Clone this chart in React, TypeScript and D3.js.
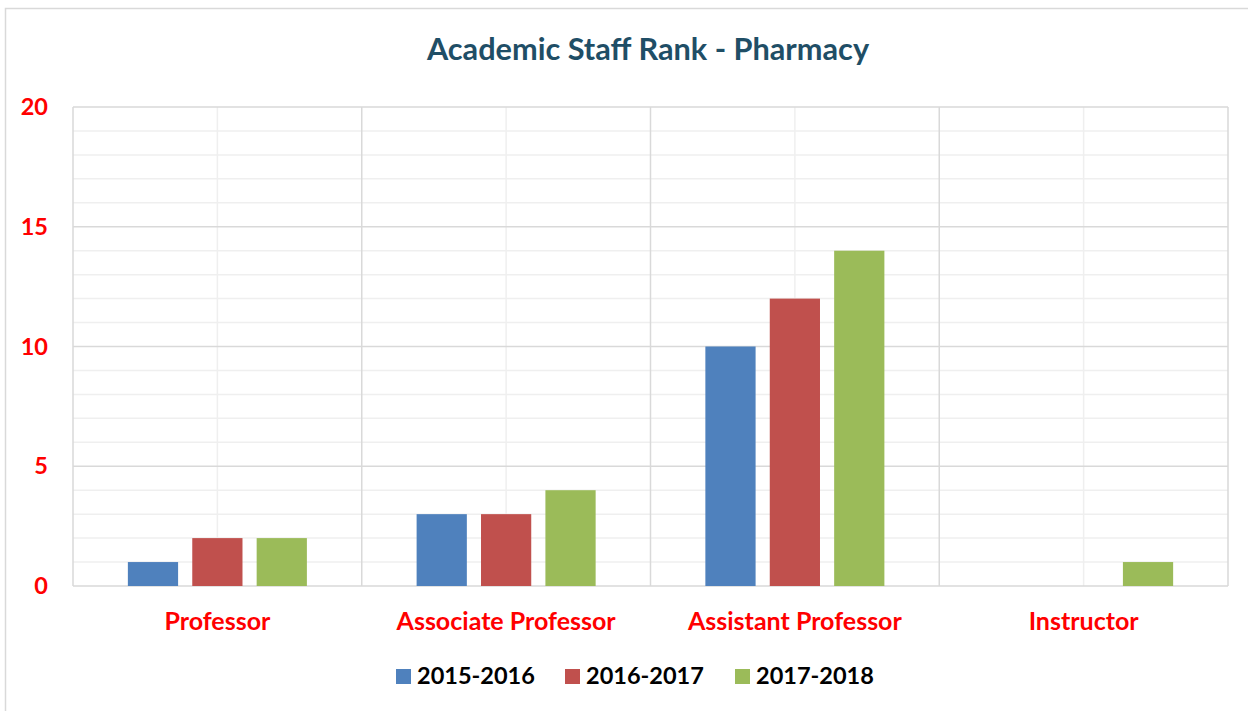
import React from 'react';
import * as d3 from 'd3';

const categories = ['Professor', 'Associate Professor', 'Assistant Professor', 'Instructor'];
const seriesNames = ['2015-2016', '2016-2017', '2017-2018'];
const values2015 = [1, 3, 10, 0];
const values2016 = [2, 3, 12, 0];
const values2017 = [2, 4, 14, 1];
const yTicks = [0, 5, 10, 15, 20];

const colors = ['#4F81BD', '#C0504D', '#9BBB59'];
const font = 'Lato, "Open Sans", sans-serif';

const W = 1248;
const H = 711;
const plot = { left: 73, top: 107, right: 1228, bottom: 586 };

const App = () => {
    const series = [values2015, values2016, values2017];

    const y = d3.scaleLinear().domain([0, 20]).range([plot.bottom, plot.top]);
    const x0 = d3.scaleBand().domain(categories).range([plot.left, plot.right]);
    const cw = x0.bandwidth();
    const x1 = d3.scaleBand()
        .domain(seriesNames)
        .range([cw * 0.19, cw * 0.81])
        .paddingInner(0.22);

    const minor = d3.range(0, 21);

    // legend layout
    const legendX = [396, 565, 735];

    return (
        <svg width={W} height={H} style={{ position: 'absolute', left: 0, top: 0, background: '#fff' }}>
            <rect x={5.5} y={8.5} width={1300} height={800} fill="#fff" stroke="#D9D9D9" strokeWidth={1.5} />

            <text x={648} y={60} textAnchor="middle" fontFamily={font} fontWeight="bold"
                  fontSize={30.7} fill="#1F4E66">Academic Staff Rank - Pharmacy</text>

            {/* minor horizontal grid */}
            {minor.filter(v => v % 5 !== 0).map(v => (
                <line key={'m' + v} x1={plot.left} x2={plot.right} y1={y(v)} y2={y(v)}
                      stroke="#EFEFEF" strokeWidth={1.5} />
            ))}
            {/* minor vertical grid at category centers */}
            {categories.map(c => (
                <line key={'vc' + c} x1={x0(c)! + cw / 2} x2={x0(c)! + cw / 2} y1={plot.top} y2={plot.bottom}
                      stroke="#EFEFEF" strokeWidth={1.5} />
            ))}
            {/* major horizontal grid */}
            {yTicks.map(v => (
                <line key={'M' + v} x1={plot.left} x2={plot.right} y1={y(v)} y2={y(v)}
                      stroke="#D9D9D9" strokeWidth={1.5} />
            ))}
            {/* category boundaries */}
            {categories.map(c => (
                <line key={'vb' + c} x1={x0(c)!} x2={x0(c)!} y1={plot.top} y2={plot.bottom}
                      stroke="#D9D9D9" strokeWidth={1.5} />
            ))}
            <line x1={plot.right} x2={plot.right} y1={plot.top} y2={plot.bottom}
                  stroke="#D9D9D9" strokeWidth={1.5} />

            {/* bars */}
            {categories.map((c, ci) => (
                <g key={c} transform={`translate(${x0(c)},0)`}>
                    {series.map((s, si) => s[ci] > 0 && (
                        <rect key={si} x={x1(seriesNames[si])} y={y(s[ci])}
                              width={x1.bandwidth()} height={y(0) - y(s[ci])} fill={colors[si]} />
                    ))}
                </g>
            ))}

            {/* y tick labels */}
            {yTicks.map(v => (
                <text key={'t' + v} x={48} y={y(v)} dy="0.35em" textAnchor="end" fontFamily={font}
                      fontWeight="bold" fontSize={23.5} fill="#FF0000">{v}</text>
            ))}

            {/* x labels */}
            {categories.map(c => (
                <text key={'l' + c} x={x0(c)! + cw / 2} y={630} textAnchor="middle" fontFamily={font}
                      fontWeight="bold" fontSize={25} fill="#FF0000">{c}</text>
            ))}

            {/* legend */}
            {seriesNames.map((s, i) => (
                <g key={s} transform={`translate(${legendX[i]},0)`}>
                    <rect x={0} y={669} width={15} height={15} fill={colors[i]} />
                    <text x={21} y={684} fontFamily={font} fontWeight="bold" fontSize={23.5} fill="#000">{s}</text>
                </g>
            ))}
        </svg>
    );
};

export default App;
